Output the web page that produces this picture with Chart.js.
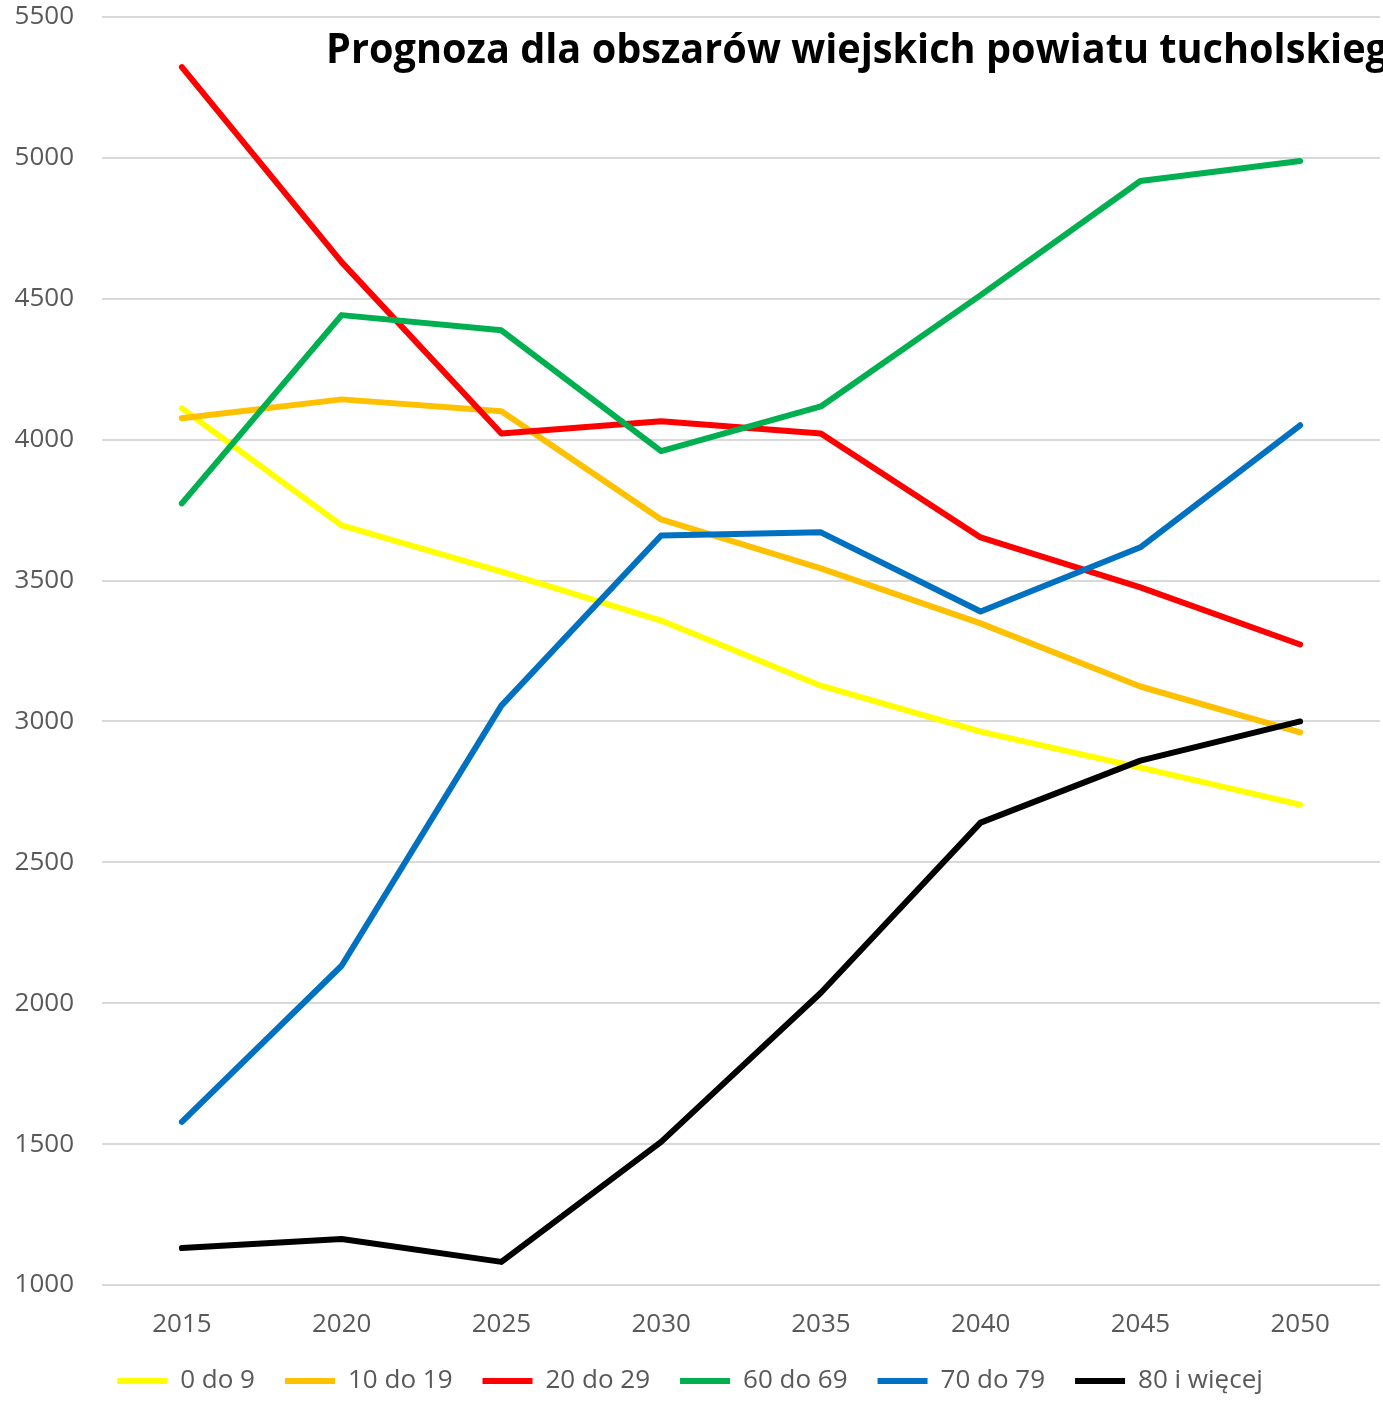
<!DOCTYPE html>
<html>
<head>
<meta charset="utf-8">
<script src="https://cdn.jsdelivr.net/npm/chart.js@4.4.1/dist/chart.umd.min.js"></script>
<style>
  html, body { margin: 0; padding: 0; background: #fff; }
  #wrap { width: 1383px; height: 1404px; }
</style>
</head>
<body>
<div id="wrap"><canvas id="chart"></canvas></div>
<script>
const years = ["2015", "2020", "2025", "2030", "2035", "2040", "2045", "2050"];
const age0to9 = [4111, 3696, 3532, 3358, 3127, 2964, 2836, 2705];
const age10to19 = [4076, 4143, 4101, 3717, 3543, 3348, 3124, 2961];
const age20to29 = [5322, 4630, 4022, 4065, 4022, 3653, 3476, 3273];
const age60to69 = [3774, 4442, 4388, 3959, 4118, 4513, 4918, 4989];
const age70to79 = [1579, 2133, 3056, 3660, 3671, 3390, 3618, 4051];
const age80plus = [1131, 1163, 1082, 1508, 2037, 2641, 2861, 3000];

const titleText = "Prognoza dla obszarów wiejskich powiatu tucholskiego";
const tickColor = "#595959";
const font = "'Open Sans', 'DejaVu Sans', sans-serif";

function series(label, data, color, idx) {
  return {
    label,
    data,
    borderColor: color,
    backgroundColor: color,
    borderWidth: 6,
    borderCapStyle: "round",
    borderJoinStyle: "round",
    pointRadius: 0,
    tension: 0,
    order: 10 - idx
  };
}

// title drawn on top, clipped at the right edge like the original
const titlePlugin = {
  id: "titlePlugin",
  afterDraw(chart) {
    const ctx = chart.ctx;
    ctx.save();
    ctx.font = "bold 42px " + font;
    ctx.fillStyle = "#000";
    ctx.textBaseline = "alphabetic";
    const w = ctx.measureText("Prognoza dla obszarów wiejskich powiatu tucholskieg").width;
    const sx = 1062 / w;
    ctx.translate(326, 63);
    ctx.scale(sx, 1);
    ctx.fillText(titleText, 0, 0);
    ctx.restore();
  }
};

new Chart(document.getElementById("chart"), {
  type: "line",
  data: {
    labels: years,
    datasets: [
      series("0 do 9", age0to9, "#FFFF00", 0),
      series("10 do 19", age10to19, "#FFC000", 1),
      series("20 do 29", age20to29, "#FF0000", 2),
      series("60 do 69", age60to69, "#00B050", 3),
      series("70 do 79", age70to79, "#0070C0", 4),
      series("80 i więcej", age80plus, "#000000", 5)
    ]
  },
  options: {
    responsive: true,
    maintainAspectRatio: false,
    animation: false,
    layout: { padding: { top: 0, right: 3, left: 0, bottom: 0 } },
    plugins: {
      title: { display: false },
      tooltip: { enabled: false },
      legend: {
        position: "bottom",
        labels: {
          usePointStyle: true,
          pointStyle: "line",
          pointStyleWidth: 50,
          boxHeight: 6,
          padding: 30,
          color: tickColor,
          font: { family: font, size: 26 },
          sort: (a, b) => a.datasetIndex - b.datasetIndex
        }
      }
    },
    scales: {
      x: {
        offset: true,
        grid: { display: false },
        border: { display: false },
        ticks: {
          color: tickColor,
          font: { family: font, size: 26 },
          padding: 16,
          maxRotation: 0
        },
        afterFit(scale) { scale.height = 53; }
      },
      y: {
        min: 1000,
        max: 5500,
        grid: { color: "#d9d9d9", lineWidth: 2, drawTicks: false },
        border: { display: false },
        ticks: {
          stepSize: 500,
          color: tickColor,
          font: { family: font, size: 26 },
          padding: 28,
          callback: (v) => String(v)
        },
        afterFit(scale) {
          scale.width = 102;
          scale.paddingTop = 17;
          scale.paddingBottom = 0;
        }
      }
    }
  },
  plugins: [titlePlugin]
});
</script>
</body>
</html>
